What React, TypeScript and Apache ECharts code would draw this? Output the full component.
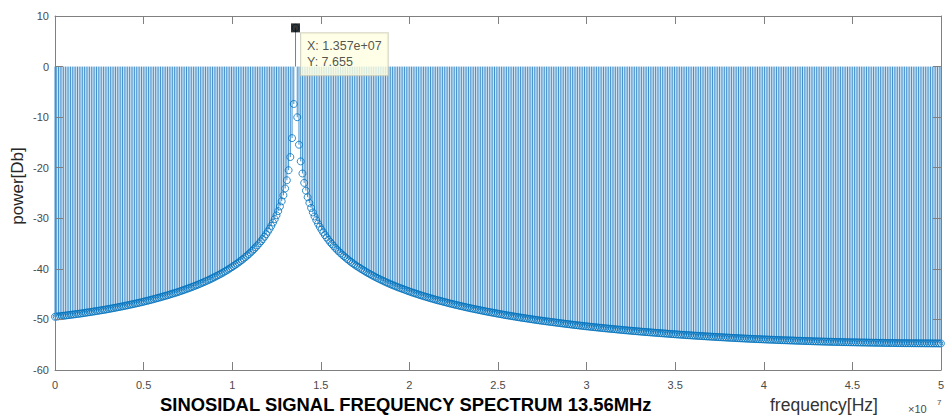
import React, { useEffect, useRef } from "react";
import * as echarts from "echarts";

// FFT set-up: 0 .. 5e7 Hz (Nyquist), 513 bins
const SAMPLE_RATE_HZ = 1e8;
const FFT_LENGTH = 1024;

// power [dB] per bin (bin 139 = 1.357e7 Hz peak)
const POWER_DB: number[] = [
  -49.47, -49.43, -49.39, -49.35, -49.31, -49.27, -49.23, -49.18, -49.14, -49.09, -49.05,
  -49.0, -48.96, -48.91, -48.87, -48.82, -48.77, -48.72, -48.66, -48.61, -48.56,
  -48.51, -48.45, -48.4, -48.34, -48.29, -48.23, -48.17, -48.12, -48.06, -48.0,
  -47.94, -47.87, -47.81, -47.74, -47.68, -47.61, -47.54, -47.48, -47.41, -47.34,
  -47.27, -47.2, -47.12, -47.05, -46.98, -46.9, -46.82, -46.75, -46.67, -46.59,
  -46.51, -46.42, -46.34, -46.25, -46.17, -46.08, -45.98, -45.89, -45.8, -45.71,
  -45.61, -45.51, -45.42, -45.32, -45.22, -45.11, -45.01, -44.9, -44.8, -44.69,
  -44.58, -44.46, -44.35, -44.23, -44.11, -43.98, -43.86, -43.73, -43.6, -43.47,
  -43.34, -43.2, -43.06, -42.92, -42.77, -42.63, -42.47, -42.32, -42.16, -42.0,
  -41.83, -41.66, -41.49, -41.31, -41.13, -40.94, -40.75, -40.55, -40.35, -40.14,
  -39.92, -39.7, -39.48, -39.24, -39.0, -38.76, -38.5, -38.24, -37.97, -37.68,
  -37.39, -37.08, -36.76, -36.44, -36.09, -35.73, -35.36, -34.96, -34.55, -34.11,
  -33.65, -33.16, -32.64, -32.09, -31.49, -30.85, -30.16, -29.41, -28.58, -27.66,
  -26.63, -25.46, -24.1, -22.48, -20.49, -17.89, -14.15, -7.4,
  7.655,
  -10.02, -15.45, -18.75, -21.14, -23.0, -24.53, -25.83, -26.96, -27.95, -28.84, -29.64,
  -30.38, -31.06, -31.68, -32.26, -32.81, -33.32, -33.8, -34.26, -34.69, -35.09,
  -35.48, -35.86, -36.21, -36.56, -36.88, -37.2, -37.5, -37.79, -38.08, -38.35,
  -38.62, -38.88, -39.13, -39.36, -39.58, -39.8, -40.02, -40.23, -40.44, -40.65,
  -40.85, -41.04, -41.23, -41.41, -41.59, -41.77, -41.94, -42.11, -42.27, -42.43,
  -42.59, -42.75, -42.9, -43.05, -43.19, -43.33, -43.47, -43.61, -43.74, -43.87,
  -43.99, -44.12, -44.24, -44.37, -44.49, -44.61, -44.73, -44.84, -44.96, -45.07,
  -45.18, -45.29, -45.39, -45.5, -45.6, -45.7, -45.8, -45.9, -46.0, -46.1,
  -46.19, -46.28, -46.37, -46.46, -46.55, -46.64, -46.73, -46.82, -46.9, -46.99,
  -47.07, -47.15, -47.23, -47.31, -47.39, -47.47, -47.55, -47.63, -47.7, -47.78,
  -47.85, -47.92, -47.99, -48.06, -48.13, -48.2, -48.27, -48.34, -48.41, -48.48,
  -48.54, -48.61, -48.67, -48.73, -48.8, -48.86, -48.92, -48.98, -49.05, -49.11,
  -49.17, -49.23, -49.28, -49.34, -49.4, -49.45, -49.51, -49.57, -49.62, -49.68,
  -49.73, -49.78, -49.83, -49.88, -49.94, -49.99, -50.04, -50.09, -50.14, -50.19,
  -50.24, -50.28, -50.33, -50.38, -50.42, -50.47, -50.51, -50.56, -50.6, -50.65,
  -50.69, -50.74, -50.78, -50.82, -50.87, -50.91, -50.95, -50.99, -51.04, -51.08,
  -51.12, -51.16, -51.2, -51.24, -51.28, -51.32, -51.36, -51.39, -51.43, -51.47,
  -51.51, -51.54, -51.58, -51.61, -51.65, -51.68, -51.72, -51.75, -51.79, -51.82,
  -51.85, -51.89, -51.92, -51.95, -51.99, -52.02, -52.05, -52.08, -52.12, -52.15,
  -52.18, -52.21, -52.24, -52.27, -52.3, -52.33, -52.36, -52.39, -52.42, -52.45,
  -52.48, -52.5, -52.53, -52.56, -52.59, -52.61, -52.64, -52.67, -52.69, -52.72,
  -52.75, -52.77, -52.8, -52.82, -52.85, -52.88, -52.9, -52.93, -52.95, -52.98,
  -53.0, -53.03, -53.05, -53.07, -53.1, -53.12, -53.14, -53.16, -53.19, -53.21,
  -53.23, -53.25, -53.27, -53.29, -53.32, -53.34, -53.36, -53.38, -53.4, -53.42,
  -53.44, -53.46, -53.48, -53.5, -53.52, -53.54, -53.56, -53.58, -53.6, -53.62,
  -53.64, -53.66, -53.67, -53.69, -53.71, -53.73, -53.75, -53.76, -53.78, -53.8,
  -53.82, -53.83, -53.85, -53.86, -53.88, -53.89, -53.91, -53.92, -53.94, -53.95,
  -53.97, -53.98, -54.0, -54.01, -54.02, -54.04, -54.05, -54.07, -54.08, -54.1,
  -54.11, -54.12, -54.13, -54.15, -54.16, -54.17, -54.18, -54.2, -54.21, -54.22,
  -54.23, -54.24, -54.26, -54.27, -54.28, -54.29, -54.3, -54.32, -54.33, -54.34,
  -54.35, -54.36, -54.37, -54.38, -54.39, -54.4, -54.41, -54.42, -54.43, -54.44,
  -54.45, -54.46, -54.46, -54.47, -54.48, -54.49, -54.5, -54.5, -54.51, -54.52,
  -54.53, -54.53, -54.54, -54.55, -54.55, -54.56, -54.57, -54.57, -54.58, -54.59,
  -54.59, -54.6, -54.61, -54.61, -54.62, -54.62, -54.63, -54.63, -54.64, -54.65,
  -54.65, -54.66, -54.66, -54.66, -54.67, -54.67, -54.68, -54.68, -54.69, -54.69,
  -54.69, -54.7, -54.7, -54.7, -54.71, -54.71, -54.71, -54.71, -54.72, -54.72,
  -54.72, -54.72, -54.73, -54.73, -54.73, -54.73, -54.74, -54.74, -54.74, -54.74, -54.75, -54.75,
];

const X_MIN = 0;
const X_MAX = 5e7;
const X_STEP = 5e6;
const X_EXPONENT = 1e7;
const Y_MIN = -60;
const Y_MAX = 10;
const Y_STEP = 10;

const PEAK_INDEX = 139;
const PEAK_TIP_X = "1.357e+07";
const PEAK_TIP_Y = "7.655";

const TITLE = "SINOSIDAL SIGNAL FREQUENCY SPECTRUM 13.56MHz";
const X_NAME = "frequency[Hz]";
const Y_NAME = "power[Db]";

const BLUE = "#0072BD";
const STEM = "#2a82c6";
const AXIS = "#808080";
const FONT = "'Liberation Sans', Arial, Helvetica, sans-serif";

export default function App() {
  const ref = useRef<HTMLDivElement>(null);

  useEffect(() => {
    document.body.style.margin = "0";
    const chart = echarts.init(ref.current!, undefined, { renderer: "svg" });

    const stems = POWER_DB.map((p, i) => [(i * SAMPLE_RATE_HZ) / FFT_LENGTH, p]);
    const peak = stems[PEAK_INDEX];

    const axisCommon = {
      splitLine: { show: false },
      axisLine: { show: true, onZero: false, lineStyle: { color: AXIS, width: 1 } },
      axisTick: { show: true, inside: true, length: 8, lineStyle: { color: AXIS, width: 1 } },
      z: 5,
    };

    chart.setOption({
      animation: false,
      backgroundColor: "#ffffff",
      grid: { left: 55, right: 3, top: 16, bottom: 46, containLabel: false },
      xAxis: [
        {
          ...axisCommon,
          type: "value",
          position: "bottom",
          min: X_MIN,
          max: X_MAX,
          interval: X_STEP,
          axisLabel: {
            color: "#4a4a4a",
            fontSize: 11,
            fontFamily: FONT,
            margin: 9,
            formatter: (v: number) => String(Math.round((v / X_EXPONENT) * 10) / 10),
          },
        },
        {
          ...axisCommon,
          type: "value",
          position: "top",
          min: X_MIN,
          max: X_MAX,
          interval: X_STEP,
          axisLabel: { show: false },
        },
      ],
      yAxis: [
        {
          ...axisCommon,
          type: "value",
          position: "left",
          min: Y_MIN,
          max: Y_MAX,
          interval: Y_STEP,
          axisLabel: { color: "#4a4a4a", fontSize: 11, fontFamily: FONT, margin: 6 },
        },
        {
          ...axisCommon,
          type: "value",
          position: "right",
          min: Y_MIN,
          max: Y_MAX,
          interval: Y_STEP,
          axisLabel: { show: false },
        },
      ],
      series: [
        {
          type: "custom",
          name: "stems",
          xAxisIndex: 0,
          yAxisIndex: 0,
          data: stems,
          encode: { x: 0, y: 1 },
          z: 2,
          renderItem: (_params: any, api: any) => {
            const f = api.value(0);
            const p = api.value(1);
            const a = api.coord([f, 0]);
            const b = api.coord([f, p]);
            return {
              type: "line",
              shape: { x1: a[0], y1: a[1], x2: b[0], y2: b[1] },
              style: { stroke: STEM, lineWidth: 0.9 },
            };
          },
        },
        {
          type: "scatter",
          name: "markers",
          xAxisIndex: 0,
          yAxisIndex: 0,
          data: stems,
          symbol: "circle",
          symbolSize: 7,
          z: 3,
          itemStyle: { color: "rgba(0,0,0,0)", borderColor: BLUE, borderWidth: 1 },
        },
        {
          type: "scatter",
          name: "datatip",
          xAxisIndex: 0,
          yAxisIndex: 0,
          data: [peak],
          symbol: "rect",
          symbolSize: 9,
          z: 10,
          itemStyle: { color: "#000000" },
          label: {
            show: true,
            position: [10, 10],
            formatter: () => `X: ${PEAK_TIP_X}\nY: ${PEAK_TIP_Y}`,
            backgroundColor: "#FFFFE1",
            borderColor: "#c9c9b5",
            borderWidth: 1,
            padding: [5, 6, 5, 6],
            lineHeight: 16,
            fontSize: 12.5,
            color: "#262626",
            fontFamily: FONT,
          },
        },
      ],
      graphic: [
        {
          type: "text",
          x: 17,
          y: 186,
          rotation: Math.PI / 2,
          style: {
            text: Y_NAME,
            fontSize: 17,
            fontFamily: FONT,
            fill: "#262626",
            align: "center",
            verticalAlign: "middle",
          },
        },
        {
          type: "text",
          x: 770,
          y: 405,
          style: {
            text: X_NAME,
            fontSize: 17.5,
            fontFamily: FONT,
            fill: "#333333",
            align: "left",
            verticalAlign: "middle",
          },
        },
        {
          type: "text",
          x: 908,
          y: 409,
          style: { text: "×10", fontSize: 11, fontFamily: FONT, fill: "#4a4a4a", verticalAlign: "middle" },
        },
        {
          type: "text",
          x: 937,
          y: 402,
          style: { text: "7", fontSize: 8, fontFamily: FONT, fill: "#4a4a4a", verticalAlign: "middle" },
        },
        {
          type: "text",
          x: 160,
          y: 404,
          style: {
            text: TITLE,
            fontSize: 18.4,
            fontWeight: "bold",
            fontFamily: FONT,
            fill: "#000000",
            align: "left",
            verticalAlign: "middle",
          },
        },
      ],
    });

    return () => chart.dispose();
  }, []);

  return <div ref={ref} style={{ width: 947, height: 416 }} />;
}
